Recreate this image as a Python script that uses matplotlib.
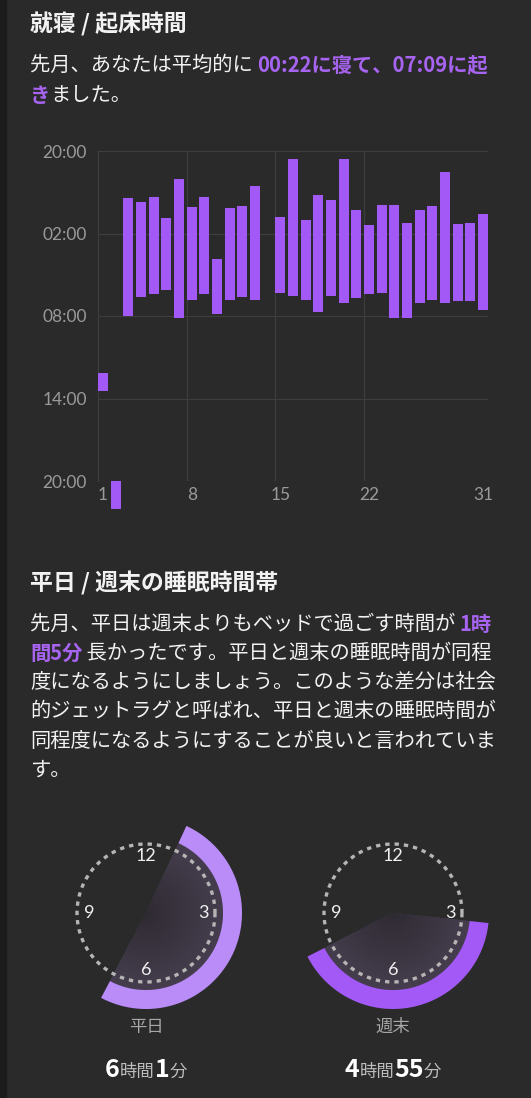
import numpy as np
import matplotlib
matplotlib.use("Agg")
import matplotlib.pyplot as plt
from matplotlib.patches import Polygon, Rectangle

plt.rcParams['font.family'] = ['Noto Sans CJK JP', 'DejaVu Sans']

# ---- data: bar chart (hours after 20:00 of the previous day) ----
days = list(range(1, 32))
bed = [16.11, 24.0, 3.42, 3.73, 3.37, 4.84, 2.01, 4.07, 3.32, 7.85, 4.17, 4.02, 2.57, None,
       4.82, 0.61, 4.99, 3.17, 3.56, 0.58, 4.26, 5.35, 3.90, 3.92, 5.23, 4.31, 4.00, 1.50,
       5.28, 5.21, 4.58]
wake = [17.47, 26.0, 11.99, 10.63, 10.42, 10.13, 12.16, 10.85, 10.39, 11.82, 10.80, 10.61, 10.83, None,
        10.30, 10.56, 10.85, 11.68, 10.54, 11.09, 10.68, 10.37, 10.32, 12.18, 12.11, 11.02, 10.83, 11.02,
        10.90, 10.90, 11.53]
x_ticks = [1, 8, 15, 22, 31]
y_ticks = [0, 6, 12, 18, 24]
y_labels = ["20:00", "02:00", "08:00", "14:00", "20:00"]

# clocks (hours on 12h dial)
clock_names = ["平日", "週末"]
clock_start = [0.83, 3.2]
clock_end = [6.93, 8.1]
dur_h = ["6", "4"]
dur_m = ["1", "55"]

BG = "#2a2a2a"
PURPLE = "#a259f5"
PURPLE_TXT = "#a764f0"
GRID = "#3e3e3e"
TICK = "#9a9a9a"

W, H = 531, 1098
fig = plt.figure(figsize=(W / 100, H / 100), dpi=100, facecolor=BG)

cv = fig.add_axes([0, 0, 1, 1])
cv.set_xlim(0, W)
cv.set_ylim(H, 0)
cv.axis('off')
cv.add_patch(Rectangle((0, 0), 6, H, color="#1c1c1c"))

def seg_text(x, y, segs, size=14.6):
    r = fig.canvas.get_renderer()
    for s, c, w in segs:
        t = cv.text(x, y, s, color=c, fontsize=size, fontweight=w, va='center', ha='left')
        bb = t.get_window_extent(renderer=r)
        x += bb.width

W_ = "#f2f2f2"
cv.text(30, 24, "就寝 / 起床時間", color=W_, fontsize=16.5, fontweight='bold', va='center')
seg_text(30, 65, [("先月、あなたは平均的に ", W_, 'normal'), ("00:22に寝て、07:09に起", PURPLE_TXT, 'bold')])
seg_text(30, 95, [("き", PURPLE_TXT, 'bold'), ("ました。", W_, 'normal')])

cv.text(30, 583, "平日 / 週末の睡眠時間帯", color=W_, fontsize=16.5, fontweight='bold', va='center')
para = [
    [("先月、平日は週末よりもベッドで過ごす時間が ", W_, 'normal'), ("1時", PURPLE_TXT, 'bold')],
    [("間5分", PURPLE_TXT, 'bold'), (" 長かったです。平日と週末の睡眠時間が同程", W_, 'normal')],
    [("度になるようにしましょう。このような差分は社会", W_, 'normal')],
    [("的ジェットラグと呼ばれ、平日と週末の睡眠時間が", W_, 'normal')],
    [("同程度になるようにすることが良いと言われていま", W_, 'normal')],
    [("す。", W_, 'normal')],
]
for i, segs in enumerate(para):
    seg_text(30, 624 + i * 29.3, segs)

# ---- bar chart ----
ax = fig.add_axes([98 / W, (H - 481) / H, 390 / W, 330 / H])
ax.set_facecolor(BG)
for d, b, w in zip(days, bed, wake):
    if b is None:
        continue
    ax.bar(d, w - b, bottom=b, width=0.78, color=PURPLE, clip_on=False, zorder=3)
ax.set_xlim(0.6, 31.4)
ax.set_ylim(24, 0)
ax.set_yticks(y_ticks)
ax.set_yticklabels(y_labels, family=['Lato', 'DejaVu Sans'])
ax.set_xticks(x_ticks)
ax.set_xticklabels([str(v) for v in x_ticks], family=['Lato', 'DejaVu Sans'])
ax.tick_params(colors=TICK, labelsize=12.5, length=0, pad=8)
ax.tick_params(axis='x', pad=4)
for s in ax.spines.values():
    s.set_visible(False)
ax.spines['left'].set_visible(True)
ax.spines['left'].set_color(GRID)
for yv in y_ticks:
    ax.axhline(yv, color=GRID, lw=0.8, zorder=1)
for xv in [7.6, 14.6, 21.6, 31.4]:
    ax.axvline(xv, color=GRID, lw=0.8, zorder=1)

# ---- clocks ----
def pt(cx, cy, r, h):
    a = h / 12 * 2 * np.pi
    return cx + r * np.sin(a), cy - r * np.cos(a)

def mix(c1, c2, t):
    c1 = np.array(matplotlib.colors.to_rgb(c1)); c2 = np.array(matplotlib.colors.to_rgb(c2))
    return tuple(c1 * (1 - t) + c2 * t)

centers = [(146, 913), (393, 913)]
arc_cols = ["#b98cf7", PURPLE]
for (cx, cy), name, s, e, col, hh, mm in zip(centers, clock_names, clock_start, clock_end, arc_cols, dur_h, dur_m):
    hs = np.linspace(s, e, 120)
    for rr in np.linspace(77, 4, 30):
        c = mix("#2e2a32", "#453d4d", rr / 77)
        pts = [(cx, cy)] + [pt(cx, cy, rr, h) for h in hs]
        cv.add_patch(Polygon(pts, closed=True, color=c, lw=0, zorder=2))
    outer = [pt(cx, cy, 96, h) for h in hs]
    inner = [pt(cx, cy, 77, h) for h in hs[::-1]]
    cv.add_patch(Polygon(outer + inner, closed=True, color=col, lw=0, zorder=3))
    th = np.linspace(0, 2 * np.pi, 300)
    cv.plot(cx + 69 * np.cos(th), cy + 69 * np.sin(th), color="#b5b5b5", lw=2.4,
            ls=(0, (1.3, 1.5)), zorder=4)
    for num, h in [("12", 0), ("3", 3), ("6", 6), ("9", 9)]:
        x, y = pt(cx, cy, 57, h)
        cv.text(x, y, num, color="#f0f0f0", fontsize=13, ha='center', va='center', zorder=5,
                family=['Lato', 'DejaVu Sans'])
    cv.text(cx, 1027, name, color="#a8a8a8", fontsize=12.5, ha='center', va='center')
    r = fig.canvas.get_renderer()
    parts = [(hh, 18, 'bold', 'white'), ("時間", 12.5, 'normal', '#bdbdbd'),
             (mm, 18, 'bold', 'white'), ("分", 12.5, 'normal', '#bdbdbd')]
    tmp = []
    total = 0
    for s_, fs, fw, c in parts:
        t = cv.text(0, 1076, s_, fontsize=fs, fontweight=fw, color=c, va='baseline')
        wdt = t.get_window_extent(renderer=r).width
        tmp.append((t, wdt))
        total += wdt
    x = cx - total / 2
    for t, wdt in tmp:
        t.set_position((x, 1077))
        x += wdt

fig.savefig("out.png", dpi=100, facecolor=BG)
